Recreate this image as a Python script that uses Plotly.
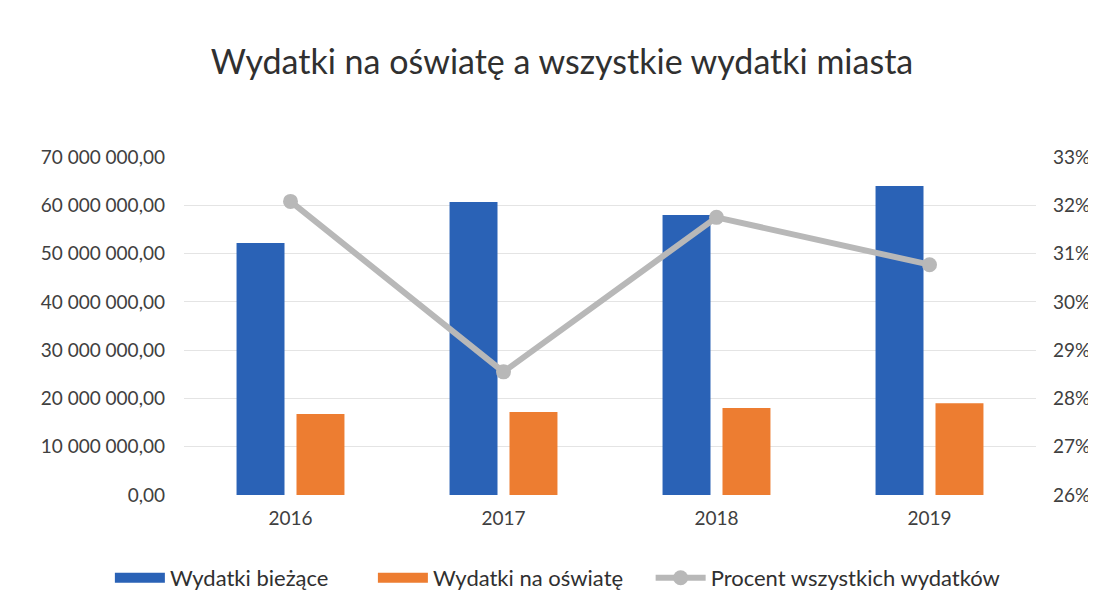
import plotly.graph_objects as go

years = ["2016", "2017", "2018", "2019"]
wydatki_biezace = [52200000, 60700000, 58000000, 64000000]
wydatki_oswiata = [16800000, 17200000, 18000000, 19000000]
procent = [32.08, 28.55, 31.75, 30.77]

left_ticks = [0, 10e6, 20e6, 30e6, 40e6, 50e6, 60e6, 70e6]
left_labels = ["0,00", "10 000 000,00", "20 000 000,00", "30 000 000,00",
               "40 000 000,00", "50 000 000,00", "60 000 000,00", "70 000 000,00"]
right_ticks = [26, 27, 28, 29, 30, 31, 32, 33]
right_labels = [f"{v}%" for v in right_ticks]

FONT = "Lato, 'Open Sans', sans-serif"
BLUE = "#2a62b6"
ORANGE = "#ed7d31"
GRAY = "#b8b8b8"
NB = "\u00a0"

fig = go.Figure()
fig.add_trace(go.Bar(x=years, y=wydatki_biezace, name="Wydatki bieżące",
                     marker=dict(color=BLUE, line=dict(width=0)), showlegend=False))
fig.add_trace(go.Bar(x=years, y=wydatki_oswiata, name="Wydatki na oświatę",
                     marker=dict(color=ORANGE, line=dict(width=0)), showlegend=False))
fig.add_trace(go.Scatter(x=years, y=procent, name="Procent wszystkich wydatków",
                         yaxis="y2", mode="lines+markers",
                         line=dict(color=GRAY, width=6),
                         marker=dict(color=GRAY, size=15), showlegend=False))
# legend proxies (no data) for wide rectangular swatches
fig.add_trace(go.Scatter(x=[None], y=[None], mode="lines",
                         name="Wydatki bieżące" + NB * 7,
                         line=dict(color=BLUE, width=12)))
fig.add_trace(go.Scatter(x=[None], y=[None], mode="lines",
                         name="Wydatki na oświatę" + NB * 4,
                         line=dict(color=ORANGE, width=12)))
fig.add_trace(go.Scatter(x=[None], y=[None], mode="lines+markers",
                         name="Procent wszystkich wydatków",
                         line=dict(color=GRAY, width=6), marker=dict(color=GRAY, size=15)))

fig.update_layout(
    width=1096, height=611,
    paper_bgcolor="white", plot_bgcolor="white",
    font=dict(family=FONT, size=18, color="#404040"),
    title=dict(text="Wydatki na oświatę a wszystkie wydatki miasta",
               x=0.5055, xanchor="center", y=0.912, yanchor="middle",
               font=dict(size=34, color="#303030")),
    margin=dict(l=176, r=68, t=149, b=124, autoexpand=False),
    barmode="group", bargap=0.437, bargroupgap=0.2,
    showlegend=True,
    legend=dict(orientation="h", x=-0.087, xanchor="left", y=-0.2456, yanchor="middle",
                font=dict(size=22, color="#303030"),
                traceorder="normal", itemwidth=50),
    xaxis=dict(showgrid=False, showline=False, ticks="", automargin=False,
               tickfont=dict(size=19, color="#404040"), ticklabelstandoff=10),
    yaxis=dict(range=[0, 70e6], tickvals=left_ticks, ticktext=left_labels,
               showgrid=True, gridcolor="#e4e4e4", gridwidth=1, zeroline=False,
               showline=False, ticks="", ticklabelstandoff=18, automargin=False,
               tickfont=dict(size=19, color="#404040")),
    yaxis2=dict(range=[26, 33], tickvals=right_ticks, ticktext=right_labels,
                overlaying="y", side="right", showgrid=False, zeroline=False,
                showline=False, ticks="", ticklabelstandoff=16, automargin=False,
                tickfont=dict(size=19, color="#404040")),
)

fig.write_html("out.html")
